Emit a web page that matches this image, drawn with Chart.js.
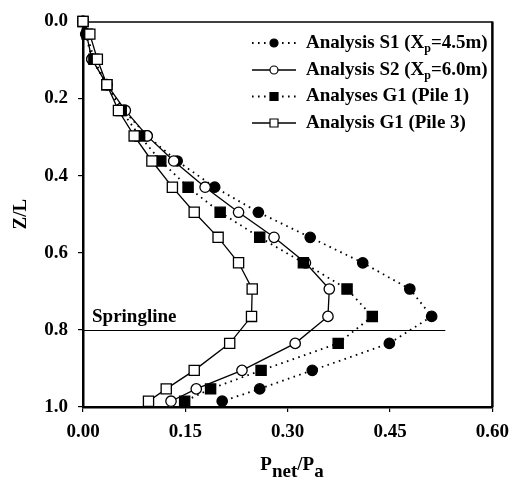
<!DOCTYPE html>
<html>
<head>
<meta charset="utf-8">
<script src="https://cdn.jsdelivr.net/npm/chart.js@4.4.1/dist/chart.umd.min.js"></script>
<style>
html,body{margin:0;padding:0;background:#fff;}
#wrap{width:518px;height:485px;position:relative;}
</style>
</head>
<body>
<div id="wrap"><canvas id="c" width="518" height="485"></canvas></div>
<script>
// Depth ratio Z/L (shared by all series)
const depthZL = [0, 0.033, 0.098, 0.164, 0.231, 0.297, 0.362, 0.43, 0.495, 0.56, 0.626, 0.694, 0.765, 0.835, 0.905, 0.953, 0.985];
// P_net / P_a for each analysis
const analysisS1 = [0, 0.004, 0.013, 0.035, 0.060, 0.094, 0.138, 0.193, 0.257, 0.333, 0.410, 0.479, 0.511, 0.449, 0.336, 0.259, 0.204];
const analysisS2 = [0, 0.005, 0.013, 0.035, 0.062, 0.094, 0.133, 0.179, 0.228, 0.280, 0.326, 0.361, 0.359, 0.311, 0.233, 0.166, 0.129];
const analysisG1Pile1 = [0, 0.006, 0.016, 0.035, 0.056, 0.083, 0.114, 0.154, 0.201, 0.259, 0.323, 0.387, 0.424, 0.374, 0.261, 0.187, 0.149];
const analysisG1Pile3 = [0, 0.010, 0.021, 0.035, 0.052, 0.075, 0.101, 0.131, 0.163, 0.198, 0.228, 0.248, 0.247, 0.215, 0.163, 0.122, 0.096];
const seriesLabels = ["Analysis S1 (X|p|=4.5m)", "Analysis S2 (X|p|=6.0m)", "Analyses G1 (Pile 1)", "Analysis G1 (Pile 3)"];
const xTicks = [0, 0.15, 0.30, 0.45, 0.60];
const yTicks = [0, 0.2, 0.4, 0.6, 0.8, 1.0];
const springlineZL = 0.8;
const springlineEndX = 0.531;
const springlineLabel = "Springline";
const xTitle = ["P", "net", "/P", "a"];
const yTitle = "Z/L";

const FONT = "'Liberation Serif', 'Times New Roman', serif";

function pts(xs){ return xs.map((v,i)=>({x:v, y:depthZL[i]})); }

const styles = [
  {data: analysisS1, dotted:true, pointStyle:'circle', filled:true, r:5.2, order:4},
  {data: analysisS2, dotted:false, pointStyle:'circle', filled:false, r:5.2, order:3},
  {data: analysisG1Pile1, dotted:true, pointStyle:'rect', filled:true, r:7.2, order:2},
  {data: analysisG1Pile3, dotted:false, pointStyle:'rect', filled:false, r:7.2, order:1}
];

const datasets = styles.map((s,i)=>({
  label: seriesLabels[i],
  data: pts(s.data),
  showLine: true,
  clip: false,
  borderColor: '#000',
  borderWidth: s.dotted ? 1.8 : 1.3,
  borderDash: s.dotted ? [1.6, 4.4] : [],
  pointStyle: s.pointStyle,
  pointRadius: s.r,
  pointHoverRadius: s.r,
  pointBackgroundColor: s.filled ? '#000' : '#fff',
  pointBorderColor: '#000',
  pointBorderWidth: 1.3,
  order: s.order,
  tension: 0,
  _dotted: s.dotted, _filled: s.filled, _ps: s.pointStyle
}));

const overlay = {
  id: 'overlay',
  beforeDatasetsDraw(chart){
    const {ctx, chartArea:a, scales:{x, y}} = chart;
    ctx.save();
    ctx.strokeStyle = '#000';
    ctx.lineWidth = 1;
    const yy = Math.round(y.getPixelForValue(springlineZL)) + 0.5;
    ctx.beginPath();
    ctx.moveTo(a.left, yy);
    ctx.lineTo(x.getPixelForValue(springlineEndX), yy);
    ctx.stroke();
    ctx.fillStyle = '#000';
    ctx.font = "bold 19px " + FONT;
    ctx.textBaseline = 'alphabetic';
    ctx.textAlign = 'left';
    ctx.fillText(springlineLabel, a.left + 9, yy - 9);
    // top border thin, right border thick
    ctx.lineWidth = 1.5;
    ctx.beginPath(); ctx.moveTo(a.left, a.top + 0.5); ctx.lineTo(a.right, a.top + 0.5); ctx.stroke();
    ctx.lineWidth = 2.5;
    ctx.beginPath(); ctx.moveTo(a.right, a.top); ctx.lineTo(a.right, a.bottom); ctx.stroke();
    ctx.restore();
  },
  afterDraw(chart){
    const {ctx, chartArea:a} = chart;
    ctx.save();
    // legend
    const lx0 = 252, lx1 = 296, tx = 306;
    const rows = [43, 70, 96.5, 123];
    chart.data.datasets.forEach((ds, i) => {
      const ry = rows[i];
      ctx.save();
      ctx.strokeStyle = '#000';
      ctx.lineWidth = ds._dotted ? 1.8 : 1.3;
      ctx.setLineDash(ds._dotted ? [1.6, 4.4] : []);
      ctx.beginPath(); ctx.moveTo(lx0, ry); ctx.lineTo(lx1, ry); ctx.stroke();
      ctx.setLineDash([]);
      const cx = (lx0 + lx1) / 2;
      ctx.fillStyle = ds._filled ? '#000' : '#fff';
      ctx.lineWidth = 1.2;
      ctx.beginPath();
      if (ds._ps === 'circle') ctx.arc(cx, ry, 4, 0, Math.PI*2);
      else ctx.rect(cx - 4, ry - 4, 8, 8);
      ctx.fill(); ctx.stroke();
      ctx.restore();
      ctx.fillStyle = '#000';
      ctx.textBaseline = 'middle';
      ctx.textAlign = 'left';
      const parts = ds.label.split('|');
      let px = tx;
      parts.forEach((p, k) => {
        if (k % 2 === 1) {
          ctx.font = "bold 12px " + FONT;
          ctx.fillText(p, px, ry + 6);
        } else {
          ctx.font = "bold 19px " + FONT;
          ctx.fillText(p, px, ry);
        }
        px += ctx.measureText(p).width;
      });
    });

    // y title
    ctx.save();
    ctx.translate(21, (a.top + a.bottom) / 2);
    ctx.rotate(-Math.PI/2);
    ctx.font = "bold 19px " + FONT;
    ctx.textAlign = 'center';
    ctx.textBaseline = 'middle';
    ctx.fillStyle = '#000';
    ctx.fillText(yTitle, 0, 0);
    ctx.restore();

    // x title with subscripts
    ctx.fillStyle = '#000';
    ctx.textBaseline = 'alphabetic';
    ctx.textAlign = 'left';
    ctx.font = "bold 19px " + FONT;
    let total = 0;
    xTitle.forEach(t => { total += ctx.measureText(t).width; });
    let sx = 292 - total / 2;
    const base = 470;
    xTitle.forEach((t, k) => {
      ctx.fillText(t, sx, k % 2 === 1 ? base + 7 : base);
      sx += ctx.measureText(t).width;
    });
    ctx.restore();
  }
};

new Chart(document.getElementById('c'), {
  type: 'scatter',
  data: { datasets },
  options: {
    responsive: false,
    animation: false,
    events: [],
    layout: { padding: { top: 12, right: 17, left: 0, bottom: 0 } },
    plugins: { legend: { display: false }, tooltip: { enabled: false } },
    scales: {
      x: {
        type: 'linear', min: 0, max: 0.6,
        afterBuildTicks(s){ s.ticks = xTicks.map(v => ({value: v})); },
        afterFit(s){ s.height = 78; },
        ticks: { callback: v => v.toFixed(2), color: '#000', font: { family: FONT, size: 19, weight: 'bold' }, padding: 9, maxRotation: 0 },
        grid: { display: true, drawOnChartArea: false, drawTicks: true, tickLength: 5, color: '#000', lineWidth: 1.2 },
        border: { display: true, color: '#000', width: 2.5 }
      },
      y: {
        type: 'linear', min: 0, max: 1, reverse: true,
        afterBuildTicks(s){ s.ticks = yTicks.map(v => ({value: v})); },
        afterFit(s){ s.width = 83; },
        ticks: { callback: v => v.toFixed(1), color: '#000', font: { family: FONT, size: 19, weight: 'bold' }, padding: 10 },
        grid: { display: true, drawOnChartArea: false, drawTicks: true, tickLength: 5, color: '#000', lineWidth: 1.2 },
        border: { display: true, color: '#000', width: 2.5 }
      }
    }
  },
  plugins: [overlay]
});
</script>
</body>
</html>
